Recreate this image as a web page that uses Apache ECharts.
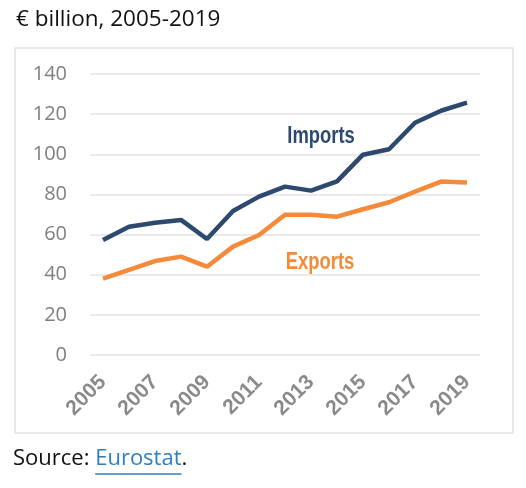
<!DOCTYPE html>
<html>
<head>
<meta charset="utf-8">
<script src="https://cdn.jsdelivr.net/npm/echarts@6/dist/echarts.min.js"></script>
<style>
  html, body { margin: 0; padding: 0; background: #fff; }
  #divChart { width: 526px; height: 488px; }
</style>
</head>
<body>
<div id="divChart"></div>
<script>
var years = ['2005', '2006', '2007', '2008', '2009', '2010', '2011', '2012',
             '2013', '2014', '2015', '2016', '2017', '2018', '2019'];
var imports = [57.3, 63.9, 65.9, 67.3, 57.8, 71.7, 78.9, 83.9, 81.9, 86.5, 99.8, 102.5, 115.7, 121.7, 125.7];
var exports = [38.0, 42.4, 46.8, 49.0, 44.0, 54.0, 59.8, 69.9, 69.9, 68.9, 72.6, 76.1, 81.4, 86.4, 85.9];
var yTicks = [0, 20, 40, 60, 80, 100, 120, 140];

var importColor = '#2d4a6e';
var exportColor = '#f58a3a';
var linkColor = '#2e7fc0';
var textFont = '"Open Sans", sans-serif';
var labelFont = '"Liberation Sans", Arial, sans-serif';

// source line pieces, measured so the link can be underlined
var srcFontSize = 22;
var srcX = 13, srcY = 448;
var ctx = document.createElement('canvas').getContext('2d');
ctx.font = srcFontSize + 'px ' + textFont;
var w1 = ctx.measureText('Source: ').width;
var w2 = ctx.measureText('Eurostat').width;

var myChart = echarts.init(document.getElementById('divChart'));

var option = {
    animation: false,
    title: {
        text: '€ billion, 2005-2019',
        left: 11,
        top: 3,
        textStyle: { fontSize: 22.5, fontWeight: 'normal', color: '#111', fontFamily: textFont }
    },
    grid: { left: 90, right: 46, top: 74, bottom: 133 },
    xAxis: {
        type: 'category',
        data: years,
        boundaryGap: true,
        axisLine: { show: false },
        axisTick: { show: false },
        axisLabel: {
            interval: 1,
            rotate: 45,
            margin: 24,
            fontSize: 21,
            fontWeight: 'bold',
            color: '#8a8a8a',
            fontFamily: labelFont
        }
    },
    yAxis: {
        type: 'value',
        min: yTicks[0],
        max: yTicks[yTicks.length - 1],
        interval: 20,
        axisLine: { show: false },
        axisTick: { show: false },
        axisLabel: {
            margin: 23,
            fontSize: 20,
            color: '#7f7f7f',
            fontFamily: textFont
        },
        splitLine: { lineStyle: { color: '#e3e3e3', width: 1.5 } }
    },
    series: [{
        name: 'Imports',
        type: 'line',
        data: imports,
        showSymbol: false,
        lineStyle: { color: importColor, width: 4.5 },
        itemStyle: { color: importColor }
    }, {
        name: 'Exports',
        type: 'line',
        data: exports,
        showSymbol: false,
        lineStyle: { color: exportColor, width: 4.5 },
        itemStyle: { color: exportColor }
    }],
    graphic: [{
        type: 'rect',
        shape: { x: 15, y: 48, width: 498, height: 385 },
        style: { fill: 'none', stroke: '#e2e2e2', lineWidth: 1.5 },
        z: -1
    }, {
        type: 'text',
        x: 321, y: 137, scaleX: 0.8,
        style: {
            text: 'Imports', fill: importColor, font: 'bold 23px ' + labelFont,
            align: 'center', verticalAlign: 'middle'
        }
    }, {
        type: 'text',
        x: 320, y: 263, scaleX: 0.8,
        style: {
            text: 'Exports', fill: exportColor, font: 'bold 23px ' + labelFont,
            align: 'center', verticalAlign: 'middle'
        }
    }, {
        type: 'text',
        x: srcX, y: srcY,
        style: { text: 'Source: ', fill: '#111', font: srcFontSize + 'px ' + textFont }
    }, {
        type: 'text',
        x: srcX + w1, y: srcY,
        style: { text: 'Eurostat', fill: linkColor, font: srcFontSize + 'px ' + textFont }
    }, {
        type: 'text',
        x: srcX + w1 + w2, y: srcY,
        style: { text: '.', fill: '#111', font: srcFontSize + 'px ' + textFont }
    }, {
        type: 'line',
        shape: { x1: srcX + w1, y1: srcY + 26, x2: srcX + w1 + w2, y2: srcY + 26 },
        style: { stroke: linkColor, lineWidth: 1.5 }
    }]
};

myChart.setOption(option);
</script>
</body>
</html>
